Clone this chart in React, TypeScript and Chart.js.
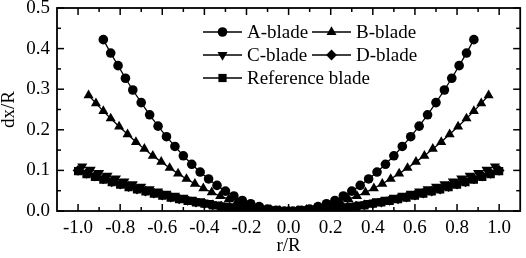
import React, { useEffect, useRef } from 'react';
import { Chart, registerables } from 'chart.js';
import { drawPoint } from 'chart.js/helpers';

Chart.register(...registerables);

const FONT_FAMILY = '"Liberation Serif", "Times New Roman", serif';

const X_TICKS = [-1.0, -0.8, -0.6, -0.4, -0.2, 0.0, 0.2, 0.4, 0.6, 0.8, 1.0];
const X_MINOR = [-0.9, -0.7, -0.5, -0.3, -0.1, 0.1, 0.3, 0.5, 0.7, 0.9];
const Y_TICKS = [0.0, 0.1, 0.2, 0.3, 0.4, 0.5];
const Y_MINOR = [0.05, 0.15, 0.25, 0.35, 0.45];

const LEGEND_LABELS = ['A-blade', 'B-blade', 'C-blade', 'D-blade', 'Reference blade'];

const A_X = [-0.88, -0.845, -0.81, -0.775, -0.74, -0.70, -0.66, -0.62, -0.58, -0.54, -0.50, -0.46, -0.42, -0.38, -0.34, -0.30, -0.26, -0.22, -0.18, -0.14, -0.10, -0.06, -0.02,
  0.02, 0.06, 0.10, 0.14, 0.18, 0.22, 0.26, 0.30, 0.34, 0.38, 0.42, 0.46, 0.50, 0.54, 0.58, 0.62, 0.66, 0.70, 0.74, 0.775, 0.81, 0.845, 0.88];
const A_Y = [0.422, 0.389, 0.358, 0.327, 0.298, 0.267, 0.237, 0.209, 0.183, 0.159, 0.136, 0.115, 0.096, 0.079, 0.063, 0.049, 0.037, 0.026, 0.018, 0.011, 0.005, 0.002, 0.000,
  0.000, 0.002, 0.005, 0.011, 0.018, 0.026, 0.037, 0.049, 0.063, 0.079, 0.096, 0.115, 0.136, 0.159, 0.183, 0.209, 0.237, 0.267, 0.298, 0.327, 0.358, 0.389, 0.422];

const B_X = [-0.95, -0.915, -0.88, -0.845, -0.805, -0.765, -0.725, -0.685, -0.645, -0.605, -0.565, -0.525, -0.485, -0.445, -0.405, -0.365, -0.325, -0.285, -0.245, -0.205, -0.165, -0.125, -0.085, -0.045,
  0.0,
  0.045, 0.085, 0.125, 0.165, 0.205, 0.245, 0.285, 0.325, 0.365, 0.405, 0.445, 0.485, 0.525, 0.565, 0.605, 0.645, 0.685, 0.725, 0.765, 0.805, 0.845, 0.88, 0.915, 0.95];
const B_Y = [0.285, 0.265, 0.246, 0.228, 0.208, 0.189, 0.170, 0.153, 0.136, 0.121, 0.106, 0.092, 0.079, 0.067, 0.056, 0.046, 0.037, 0.029, 0.022, 0.015, 0.010, 0.006, 0.003, 0.001,
  0.000,
  0.001, 0.003, 0.006, 0.010, 0.015, 0.022, 0.029, 0.037, 0.046, 0.056, 0.067, 0.079, 0.092, 0.106, 0.121, 0.136, 0.153, 0.170, 0.189, 0.208, 0.228, 0.246, 0.265, 0.285];

const C_X = [-0.98, -0.94, -0.90, -0.86, -0.82, -0.78, -0.74, -0.70, -0.66, -0.62, -0.58, -0.54, -0.50, -0.46, -0.42, -0.38, -0.34, -0.30, -0.26, -0.22, -0.18, -0.14, -0.10, -0.06, -0.02,
  0.02, 0.06, 0.10, 0.14, 0.18, 0.22, 0.26, 0.30, 0.34, 0.38, 0.42, 0.46, 0.50, 0.54, 0.58, 0.62, 0.66, 0.70, 0.74, 0.78, 0.82, 0.86, 0.90, 0.94, 0.98];
const C_Y = [0.110, 0.102, 0.094, 0.087, 0.080, 0.073, 0.066, 0.060, 0.054, 0.048, 0.043, 0.038, 0.033, 0.028, 0.024, 0.020, 0.016, 0.013, 0.010, 0.0075, 0.0052, 0.0033, 0.0018, 0.0007, 0.0001,
  0.0001, 0.0007, 0.0018, 0.0033, 0.0052, 0.0075, 0.010, 0.013, 0.016, 0.020, 0.024, 0.028, 0.033, 0.038, 0.043, 0.048, 0.054, 0.060, 0.066, 0.073, 0.080, 0.087, 0.094, 0.102, 0.110];

const D_X = [-1.0, -0.96, -0.92, -0.88, -0.84, -0.80, -0.76, -0.72, -0.68, -0.64, -0.60, -0.56, -0.52, -0.48, -0.44, -0.40, -0.36, -0.32, -0.28, -0.24, -0.20, -0.16, -0.12, -0.08, -0.04,
  0.0,
  0.04, 0.08, 0.12, 0.16, 0.20, 0.24, 0.28, 0.32, 0.36, 0.40, 0.44, 0.48, 0.52, 0.56, 0.60, 0.64, 0.68, 0.72, 0.76, 0.80, 0.84, 0.88, 0.92, 0.96, 1.0];
const D_Y = [0.100, 0.093, 0.086, 0.079, 0.072, 0.066, 0.060, 0.054, 0.049, 0.044, 0.039, 0.034, 0.030, 0.026, 0.022, 0.018, 0.015, 0.012, 0.0095, 0.0071, 0.0051, 0.0034, 0.0020, 0.0009, 0.0003,
  0.000,
  0.0003, 0.0009, 0.0020, 0.0034, 0.0051, 0.0071, 0.0095, 0.012, 0.015, 0.018, 0.022, 0.026, 0.030, 0.034, 0.039, 0.044, 0.049, 0.054, 0.060, 0.066, 0.072, 0.079, 0.086, 0.093, 0.100];

const R_X = [-1.0, -0.96, -0.92, -0.88, -0.84, -0.80, -0.76, -0.72, -0.68, -0.64, -0.60, -0.56, -0.52, -0.48, -0.44, -0.40, -0.36, -0.32, -0.28, -0.24, -0.20, -0.16, -0.12, -0.08, -0.04,
  0.0,
  0.04, 0.08, 0.12, 0.16, 0.20, 0.24, 0.28, 0.32, 0.36, 0.40, 0.44, 0.48, 0.52, 0.56, 0.60, 0.64, 0.68, 0.72, 0.76, 0.80, 0.84, 0.88, 0.92, 0.96, 1.0];
const R_Y = [0.098, 0.091, 0.084, 0.077, 0.071, 0.065, 0.059, 0.053, 0.048, 0.043, 0.038, 0.033, 0.029, 0.025, 0.021, 0.018, 0.014, 0.011, 0.009, 0.006, 0.004, 0.003, 0.002, 0.001, 0.000,
  0.000,
  0.000, 0.001, 0.002, 0.003, 0.004, 0.006, 0.009, 0.011, 0.014, 0.018, 0.021, 0.025, 0.029, 0.033, 0.038, 0.043, 0.048, 0.053, 0.059, 0.065, 0.071, 0.077, 0.084, 0.091, 0.098];

const toPoints = (xs: number[], ys: number[]) => xs.map((x, i) => ({ x, y: ys[i] }));

const framePlugin = {
  id: 'frameTicks',
  afterDatasetsDraw(chart: any) {
    const { ctx, chartArea: a, scales } = chart;
    const xs = scales.x;
    const ys = scales.y;
    ctx.save();
    ctx.strokeStyle = '#000';
    ctx.lineWidth = 1.5;
    const tick = (x1: number, y1: number, x2: number, y2: number) => {
      ctx.beginPath();
      ctx.moveTo(x1, y1);
      ctx.lineTo(x2, y2);
      ctx.stroke();
    };
    const MAJ = 7;
    const MIN = 4;
    X_TICKS.forEach((v) => {
      const p = xs.getPixelForValue(v);
      tick(p, a.bottom, p, a.bottom - MAJ);
      tick(p, a.top, p, a.top + MAJ);
    });
    X_MINOR.forEach((v) => {
      const p = xs.getPixelForValue(v);
      tick(p, a.bottom, p, a.bottom - MIN);
      tick(p, a.top, p, a.top + MIN);
    });
    Y_TICKS.forEach((v) => {
      const p = ys.getPixelForValue(v);
      tick(a.left, p, a.left + MAJ, p);
      tick(a.right, p, a.right - MAJ, p);
    });
    Y_MINOR.forEach((v) => {
      const p = ys.getPixelForValue(v);
      tick(a.left, p, a.left + MIN, p);
      tick(a.right, p, a.right - MIN, p);
    });
    ctx.lineWidth = 1.8;
    ctx.strokeRect(a.left, a.top, a.right - a.left, a.bottom - a.top);
    ctx.restore();
  },
};

const legendPlugin = {
  id: 'customLegend',
  afterDraw(chart: any) {
    const { ctx } = chart;
    const pos = [
      { x: 203, y: 32 },
      { x: 312, y: 32 },
      { x: 203, y: 55 },
      { x: 312, y: 55 },
      { x: 203, y: 78 },
    ];
    ctx.save();
    chart.data.datasets.forEach((ds: any, i: number) => {
      const p = pos[i];
      const len = 39;
      ctx.strokeStyle = '#000';
      ctx.lineWidth = 1.3;
      ctx.beginPath();
      ctx.moveTo(p.x, p.y);
      ctx.lineTo(p.x + len, p.y);
      ctx.stroke();
      ctx.fillStyle = '#000';
      drawPoint(ctx, {
        pointStyle: ds.pointStyle,
        radius: ds.pointRadius,
        rotation: ds.pointRotation || 0,
        borderWidth: 0,
      } as any, p.x + len / 2, p.y);
      ctx.fillStyle = '#000';
      ctx.font = `19px ${FONT_FAMILY}`;
      ctx.textBaseline = 'middle';
      ctx.textAlign = 'left';
      ctx.fillText(LEGEND_LABELS[i], p.x + len + 5, p.y + 1);
    });
    ctx.restore();
  },
};

function makeDataset(label: string, data: any[], pointStyle: string, radius: number, rotation = 0) {
  return {
    label,
    data,
    borderColor: '#000',
    backgroundColor: '#000',
    borderWidth: 1.3,
    pointStyle,
    pointRadius: radius,
    pointRotation: rotation,
    pointBorderWidth: 0,
    pointBackgroundColor: '#000',
    showLine: true,
    tension: 0,
  };
}

export default function App() {
  const ref = useRef<HTMLCanvasElement | null>(null);
  useEffect(() => {
    document.body.style.margin = '0';
    const canvas = ref.current;
    if (!canvas) return;
    const chart = new Chart(canvas, {
      type: 'scatter',
      data: {
        datasets: [
          makeDataset(LEGEND_LABELS[0], toPoints(A_X, A_Y), 'circle', 4.8),
          makeDataset(LEGEND_LABELS[1], toPoints(B_X, B_Y), 'triangle', 5.8),
          makeDataset(LEGEND_LABELS[2], toPoints(C_X, C_Y), 'triangle', 5.8, 180),
          makeDataset(LEGEND_LABELS[3], toPoints(D_X, D_Y), 'rectRot', 5.4),
          makeDataset(LEGEND_LABELS[4], toPoints(R_X, R_Y), 'rect', 5.8),
        ] as any,
      },
      options: {
        animation: false,
        responsive: false,
        maintainAspectRatio: false,
        layout: { padding: { left: 0, right: 4, top: 8, bottom: 0 } },
        plugins: {
          legend: { display: false },
          tooltip: { enabled: false },
        },
        scales: {
          x: {
            type: 'linear',
            min: -1.1,
            max: 1.1,
            afterBuildTicks: (s: any) => {
              s.ticks = X_TICKS.map((v) => ({ value: v }));
            },
            afterFit: (s: any) => {
              s.height = 47;
              s.paddingLeft = 0;
              s.paddingRight = 0;
            },
            grid: { display: false, drawTicks: false },
            border: { display: false },
            ticks: {
              color: '#000',
              padding: 6,
              maxRotation: 0,
              autoSkip: false,
              font: { family: FONT_FAMILY, size: 19 },
              callback: (v: any) => Number(v).toFixed(1),
            },
            title: {
              display: true,
              text: 'r/R',
              color: '#000',
              padding: { top: 0, bottom: 2 },
              font: { family: FONT_FAMILY, size: 19, lineHeight: 1 },
            },
          },
          y: {
            type: 'linear',
            min: 0,
            max: 0.5,
            afterBuildTicks: (s: any) => {
              s.ticks = Y_TICKS.map((v) => ({ value: v }));
            },
            afterFit: (s: any) => {
              s.width = 57;
              s.paddingTop = 0;
              s.paddingBottom = 0;
            },
            grid: { display: false, drawTicks: false },
            border: { display: false },
            ticks: {
              color: '#000',
              padding: 7,
              autoSkip: false,
              font: { family: FONT_FAMILY, size: 19 },
              callback: (v: any) => Number(v).toFixed(1),
            },
            title: {
              display: true,
              text: 'dx/R',
              color: '#000',
              padding: { top: 0, bottom: 0 },
              font: { family: FONT_FAMILY, size: 19, lineHeight: 1 },
            },
          },
        },
      } as any,
      plugins: [framePlugin, legendPlugin],
    });
    return () => chart.destroy();
  }, []);
  return (
    <div style={{ width: 526, height: 258, position: 'relative', background: '#fff' }}>
      <canvas ref={ref} width={526} height={258} style={{ display: 'block', width: 526, height: 258 }} />
    </div>
  );
}
